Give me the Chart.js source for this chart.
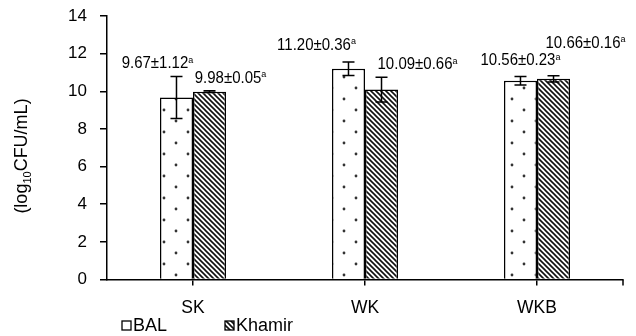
<!DOCTYPE html>
<html>
<head>
<meta charset="utf-8">
<script src="https://cdn.jsdelivr.net/npm/chart.js@4.4.0/dist/chart.umd.min.js"></script>
<style>
  html, body { margin: 0; padding: 0; background: #fff; }
  #wrap { width: 636px; height: 336px; }
</style>
</head>
<body>
<div id="wrap"><canvas id="chart" width="636" height="336"></canvas></div>
<script>
const categories = ['SK', 'WK', 'WKB'];
const seriesNames = ['BAL', 'Khamir'];
const balValues = [9.67, 11.20, 10.56];
const balErrors = [1.12, 0.36, 0.23];
const khamirValues = [9.98, 10.09, 10.66];
const khamirErrors = [0.05, 0.66, 0.16];
const balLetters = ['a', 'a', 'a'];
const khamirLetters = ['a', 'a', 'a'];
const yTicks = [0, 2, 4, 6, 8, 10, 12, 14];

// where each value label sits: px from bar centre and from top of error bar (placed by hand in the original)
const balLabelShift = [[-19, -8], [-32, -12], [0, -11]];
const khamirLabelShift = [[21, -8], [36, -8], [32, -28]];

const FONT = "'Liberation Sans', Arial, sans-serif";

function dotPattern() {
    const c = document.createElement('canvas');
    c.width = 24; c.height = 22;
    const g = c.getContext('2d');
    g.fillStyle = '#fff';
    g.fillRect(0, 0, 24, 22);
    g.fillStyle = '#333';
    [[8, 11], [20, 0], [20, 22]].forEach(([x, y]) => {
        g.beginPath();
        g.arc(x, y, 1.4, 0, Math.PI * 2);
        g.fill();
    });
    return g.createPattern(c, 'repeat');
}

function hatchPattern() {
    const s = 5;
    const c = document.createElement('canvas');
    c.width = s; c.height = s;
    const g = c.getContext('2d');
    g.fillStyle = '#fff';
    g.fillRect(0, 0, s, s);
    g.strokeStyle = '#111';
    g.lineWidth = 1.6;
    g.beginPath();
    g.moveTo(-1, -1); g.lineTo(s + 1, s + 1);
    g.moveTo(-1, s - 1); g.lineTo(1, s + 1);
    g.moveTo(s - 1, -1); g.lineTo(s + 1, 1);
    g.stroke();
    return g.createPattern(c, 'repeat');
}

const errors = [balErrors, khamirErrors];
const letters = [balLetters, khamirLetters];
const shifts = [balLabelShift, khamirLabelShift];

// error bars + value labels
const barExtras = {
    id: 'barExtras',
    afterDatasetsDraw(chart) {
        const ctx = chart.ctx;
        const y = chart.scales.y;
        ctx.save();
        chart.data.datasets.forEach((ds, i) => {
            const meta = chart.getDatasetMeta(i);
            meta.data.forEach((bar, j) => {
                const v = ds.data[j];
                const e = errors[i][j];
                const top = y.getPixelForValue(v + e);
                const bot = y.getPixelForValue(v - e);
                ctx.strokeStyle = '#000';
                ctx.lineWidth = 1.5;
                ctx.beginPath();
                ctx.moveTo(bar.x, top); ctx.lineTo(bar.x, bot);
                ctx.moveTo(bar.x - 6, top); ctx.lineTo(bar.x + 6, top);
                ctx.moveTo(bar.x - 6, bot); ctx.lineTo(bar.x + 6, bot);
                ctx.stroke();

                const main = v.toFixed(2) + '±' + e.toFixed(2);
                ctx.font = '15px ' + FONT;
                const wMain = ctx.measureText(main).width;
                ctx.font = '9px ' + FONT;
                const wSup = ctx.measureText(letters[i][j]).width;
                const left = bar.x + shifts[i][j][0] - (wMain + wSup) / 2;
                const base = top + shifts[i][j][1];
                ctx.fillStyle = '#000';
                ctx.textAlign = 'left';
                ctx.textBaseline = 'alphabetic';
                ctx.save();
                ctx.translate(left, base);
                ctx.scale(1, 1.1);
                ctx.font = '15px ' + FONT;
                ctx.fillText(main, 0, 0);
                ctx.font = '9px ' + FONT;
                ctx.fillText(letters[i][j], wMain, -5);
                ctx.restore();
            });
        });
        ctx.restore();
    }
};

// axis title with subscript, end tick of the category axis, and the small legend under the axis
const legendX = [122, 225];
const decorations = {
    id: 'decorations',
    afterDraw(chart) {
        const ctx = chart.ctx;
        const area = chart.chartArea;
        ctx.save();
        ctx.strokeStyle = '#000';
        ctx.lineWidth = 1.5;
        ctx.beginPath();
        ctx.moveTo(area.right, area.bottom);
        ctx.lineTo(area.right, area.bottom + 6);
        ctx.stroke();

        ctx.fillStyle = '#000';
        ctx.textBaseline = 'alphabetic';
        ctx.textAlign = 'left';

        ctx.save();
        ctx.translate(27, 156);
        ctx.rotate(-Math.PI / 2);
        const parts = [['(log', 18, 0], ['10', 11, 4], ['CFU/mL)', 18, 0]];
        let total = 0;
        parts.forEach(p => { ctx.font = p[1] + 'px ' + FONT; total += ctx.measureText(p[0]).width; });
        let cx = -total / 2;
        parts.forEach(p => {
            ctx.font = p[1] + 'px ' + FONT;
            ctx.fillText(p[0], cx, p[2]);
            cx += ctx.measureText(p[0]).width;
        });
        ctx.restore();

        chart.data.datasets.forEach((ds, i) => {
            const x = legendX[i];
            ctx.fillStyle = ds.backgroundColor;
            ctx.fillRect(x, 321, 9, 9);
            ctx.strokeStyle = '#000';
            ctx.lineWidth = 1.3;
            ctx.strokeRect(x, 321, 9, 9);
            ctx.fillStyle = '#000';
            ctx.font = '18px ' + FONT;
            ctx.fillText(ds.label, x + 11, 331);
        });
        ctx.restore();
    }
};

new Chart(document.getElementById('chart'), {
    type: 'bar',
    data: {
        labels: categories,
        datasets: [
            {
                label: seriesNames[0],
                data: balValues,
                backgroundColor: dotPattern(),
                borderColor: '#000',
                borderWidth: 1.5
            },
            {
                label: seriesNames[1],
                data: khamirValues,
                backgroundColor: hatchPattern(),
                borderColor: '#000',
                borderWidth: 1.5
            }
        ]
    },
    options: {
        responsive: false,
        animation: false,
        layout: { padding: { top: 16, right: 13, left: 0, bottom: 0 } },
        datasets: {
            bar: { categoryPercentage: 0.384, barPercentage: 1 }
        },
        plugins: {
            legend: { display: false },
            tooltip: { enabled: false }
        },
        scales: {
            x: {
                grid: { drawOnChartArea: false, offset: false, tickLength: 6, color: '#000', lineWidth: 1.5 },
                border: { color: '#000', width: 1.5 },
                ticks: { color: '#000', padding: 12, font: { family: FONT, size: 17.5 } },
                afterFit: s => { s.height = 56.5; s.paddingLeft = 0; s.paddingRight = 0; }
            },
            y: {
                min: 0,
                max: 14,
                afterBuildTicks: s => { s.ticks = yTicks.map(v => ({ value: v })); },
                grid: { drawOnChartArea: false, tickLength: 7, color: '#000', lineWidth: 1.5 },
                border: { color: '#000', width: 1.5 },
                ticks: { color: '#000', padding: 13, font: { family: FONT, size: 17 } },
                afterFit: s => { s.width = 107; s.paddingTop = 0; s.paddingBottom = 0; }
            }
        }
    },
    plugins: [barExtras, decorations]
});
</script>
</body>
</html>
